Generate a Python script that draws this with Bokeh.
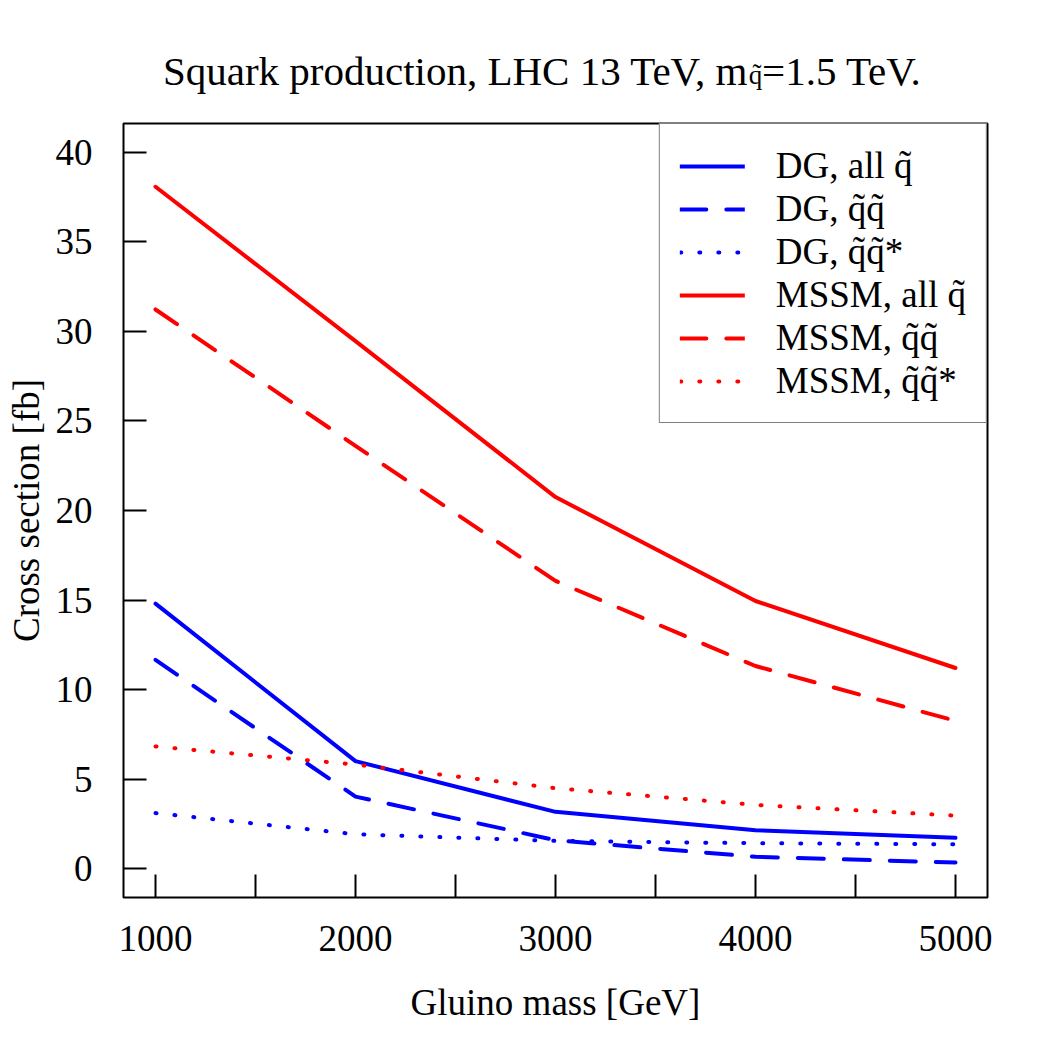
from bokeh.core.properties import value
from bokeh.embed import file_html
from bokeh.layouts import column
from bokeh.models import FixedTicker, Legend, LegendItem, Range1d
from bokeh.plotting import figure
from bokeh.resources import INLINE

# Gluino masses [GeV] and squark production cross sections [fb]
gluino_mass = [1000, 2000, 3000, 4000, 5000]
dg_all = [14.80, 6.01, 3.18, 2.16, 1.73]
dg_qq = [11.66, 4.03, 1.60, 0.67, 0.35]
dg_qqbar = [3.11, 1.93, 1.56, 1.43, 1.37]
mssm_all = [38.07, 29.45, 20.75, 14.95, 11.21]
mssm_qq = [31.22, 23.61, 16.07, 11.32, 8.26]
mssm_qqbar = [6.83, 5.82, 4.50, 3.57, 2.97]

series_labels = [
    "DG, all q\u0303",
    "DG, q\u0303q\u0303",
    "DG, q\u0303q\u0303*",
    "MSSM, all q\u0303",
    "MSSM, q\u0303q\u0303",
    "MSSM, q\u0303q\u0303*",
]

x_ticks = [1000, 2000, 3000, 4000, 5000]
x_minor_ticks = [1500, 2500, 3500, 4500]
y_ticks = [0, 5, 10, 15, 20, 25, 30, 35, 40]

title_main = "Squark production, LHC 13 TeV, m"
title_sub = "q\u0303"
title_tail = "=1.5 TeV."

FONT = "Liberation Serif"
BLUE = "#0000ff"
RED = "#ff0000"

# ---- title strip: a bare canvas whose frame spans the whole strip ----
TITLE_H = 121
head = figure(
    width=1050,
    height=TITLE_H,
    x_range=Range1d(0, 1050),
    y_range=Range1d(0, TITLE_H),
    min_border_left=0,
    min_border_right=0,
    min_border_top=0,
    min_border_bottom=0,
    x_axis_type=None,
    y_axis_type=None,
    output_backend="svg",
    toolbar_location=None,
    background_fill_color="white",
    border_fill_color="white",
)
head.grid.visible = False
head.outline_line_color = None

head.text(x=[759], y=[TITLE_H - 70], text=[title_main], text_align="right",
          text_baseline="alphabetic", text_font=value(FONT),
          text_font_size="41px", text_color="black")
head.text(x=[760], y=[TITLE_H - 74], text=[title_sub], text_align="left",
          text_baseline="alphabetic", text_font=value(FONT),
          text_font_size="27px", text_color="black")
head.text(x=[776], y=[TITLE_H - 70], text=[title_tail], text_align="left",
          text_baseline="alphabetic", text_font=value(FONT),
          text_font_size="41px", text_color="black")

# ---- main chart ----
p = figure(
    width=1050,
    height=1050 - TITLE_H,
    x_range=Range1d(840, 5160),
    y_range=Range1d(-1.6, 41.6),
    min_border_left=123,
    min_border_right=63,
    min_border_top=2,
    min_border_bottom=153,
    output_backend="svg",
    toolbar_location=None,
    background_fill_color="white",
    border_fill_color="white",
)
p.grid.visible = False
p.outline_line_color = "black"
p.outline_line_width = 2

# axes: ticks point into the frame, labels outside
p.xaxis.ticker = FixedTicker(ticks=x_ticks, minor_ticks=x_minor_ticks)
p.yaxis.ticker = FixedTicker(ticks=y_ticks)
for ax in (p.xaxis, p.yaxis):
    ax.axis_line_color = None
    ax.major_tick_in = 23
    ax.major_tick_out = 0
    ax.minor_tick_in = 23
    ax.minor_tick_out = 0
    ax.major_tick_line_color = "black"
    ax.major_tick_line_width = 2
    ax.minor_tick_line_color = "black"
    ax.minor_tick_line_width = 2
    ax.major_label_text_font = FONT
    ax.major_label_text_font_size = "37px"
    ax.major_label_text_color = "black"
    ax.axis_label_text_font = FONT
    ax.axis_label_text_font_size = "37px"
    ax.axis_label_text_font_style = "normal"
    ax.axis_label_text_color = "black"
p.yaxis.minor_tick_line_color = None
p.xaxis.major_label_standoff = 28
p.yaxis.major_label_standoff = 31
p.xaxis.axis_label = "Gluino mass [GeV]"
p.yaxis.axis_label = "Cross section [fb]"
p.xaxis.axis_label_standoff = 28
p.yaxis.axis_label_standoff = 6

styles = [
    (dg_all, BLUE, "solid"),
    (dg_qq, BLUE, "26 20"),
    (dg_qqbar, BLUE, "1 18"),
    (mssm_all, RED, "solid"),
    (mssm_qq, RED, "26 20"),
    (mssm_qqbar, RED, "1 18"),
]

items = []
for (ys, color, dash), label in zip(styles, series_labels):
    r = p.line(
        gluino_mass,
        ys,
        line_color=color,
        line_width=4,
        line_dash=dash,
        line_cap="round",
        line_join="round",
    )
    items.append(LegendItem(label=label, renderers=[r]))

legend = Legend(
    items=items,
    location="top_right",
    margin=0,
    padding=20,
    spacing=0,
    glyph_width=65,
    glyph_height=42,
    label_height=42,
    label_standoff=31,
    label_text_font=FONT,
    label_text_font_size="37px",
    label_text_color="black",
    border_line_color="black",
    border_line_width=1.5,
    background_fill_color="white",
    background_fill_alpha=1.0,
)
p.add_layout(legend)

layout = column(head, p, spacing=0)
open("out.html", "w").write(file_html(layout, INLINE))
